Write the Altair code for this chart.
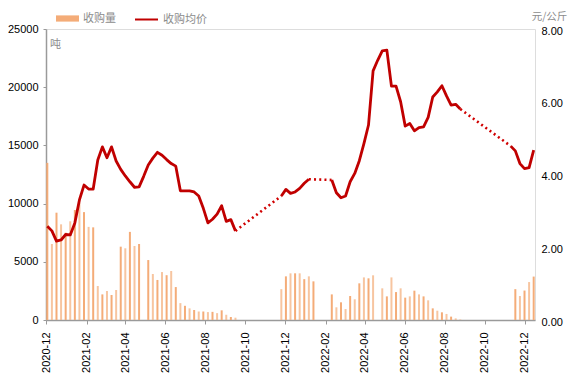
import altair as alt
import pandas as pd

start_date = "2020-12-03"

# weekly purchase volume (吨); None = no data that week
volume = [13500, 6530, 9220, 8220, 7500, 8480, 9450, 10080, 9270, 8000,
          7960, 2920, 2200, 2490, 2150, 2580, 6300, 6160, 7570, 6360,
          6530, None, 5150, 3950, 3440, 4120, 3850, 4210, 2830, 1450,
          1220, 1000, 860, 730, 730, 680, 700, 590, 830, 450,
          260, 200,
          None, None, None, None, None, None, None, None, None,
          2650, 3750, 4010, 4010, 4010, 3510, 3750, 3320,
          None, None, None,
          2200, 1090, 1520, 940, 2060, 1780, 3150, 3660, 3580, 3840,
          None,
          2720, 2030, 3660, 2400, 2720, 1920, 2030, 2520, 2200, 2030,
          1690, 1000, 800, 660, 520, 290, 140, 30,
          None, None, None, None, None, None, None, None, None, None, None,
          2650, 2060, 2530, 3260, 3730]

# weekly average purchase price (元/公斤); None = gap (drawn dotted)
price = [2.58, 2.45, 2.17, 2.20, 2.35, 2.34, 2.67, 3.30, 3.71, 3.60,
         3.60, 4.40, 4.76, 4.46, 4.76, 4.37, 4.14, 3.96, 3.80, 3.65,
         3.66, 3.95, 4.26, 4.45, 4.61, 4.53, 4.41, 4.30, 4.23, 3.55,
         3.55, 3.55, 3.52, 3.41, 3.07, 2.67, 2.77, 2.91, 3.14, 2.71,
         2.76, 2.45,
         None, None, None, None, None, None, None, None, None,
         3.41, 3.59, 3.48, 3.52, 3.62, 3.76, 3.87,
         None, None, None, None,
         3.85, 3.50, 3.36, 3.41, 3.80, 4.03, 4.38, 4.85, 5.36, 6.85,
         7.14, 7.40, 7.42, 6.43, 6.43, 6.00, 5.33, 5.40, 5.20, 5.29,
         5.31, 5.57, 6.13, 6.27, 6.44, 6.16, 5.91, 5.93, 5.80,
         None, None, None, None, None, None, None, None, None, None,
         4.78, 4.65, 4.30, 4.16, 4.19, 4.67]

x_tick_labels = ["2020-12", "2021-02", "2021-04", "2021-06", "2021-08", "2021-10",
                 "2021-12", "2022-02", "2022-04", "2022-06", "2022-08", "2022-10",
                 "2022-12"]
x_domain = ["2020-12-01", "2022-12-17"]
left_ticks = [0, 5000, 10000, 15000, 20000, 25000]
right_ticks = [0, 2, 4, 6, 8]

series_names = ["收购量", "收购均价"]

dates = pd.date_range(start_date, periods=len(volume), freq="7D")
df = pd.DataFrame({
    "date": dates.strftime("%Y-%m-%d"),
    "volume": volume,
    "price": price,
})
df["idx"] = range(len(df))
df["seg"] = df["price"].isna().cumsum()
df["s_bar"] = series_names[0]
df["s_line"] = series_names[1]

bars_df = df.dropna(subset=["volume"])
solid_df = df.dropna(subset=["price"])

valid = solid_df.index.tolist()
gap_rows = []
for a, b in zip(valid[:-1], valid[1:]):
    if b - a > 1:
        gap_rows.append({"date": df.loc[a, "date"], "price": df.loc[a, "price"], "gap": int(a)})
        gap_rows.append({"date": df.loc[b, "date"], "price": df.loc[b, "price"], "gap": int(a)})
dotted_df = pd.DataFrame(gap_rows)


def dt(s):
    y, m, *d = [int(v) for v in s.split("-")]
    return alt.DateTime(year=y, month=m, date=(d[0] if d else 1), utc=True)


x_scale = alt.Scale(type="utc", domain=[dt(x_domain[0]), dt(x_domain[1])], padding=0)
x_axis = alt.Axis(values=[dt(s) for s in x_tick_labels], format="%Y-%m",
                  labelAngle=270, labelFontSize=11, labelColor="#000000",
                  labelFont="Liberation Sans", labelPadding=8,
                  tickSize=4, tickColor="#9a9a9a", domainColor="#9a9a9a",
                  domainWidth=1.5, grid=False, title=None)

GREY = "#8c8c8c"
CJK = "Noto Sans CJK SC"
price_scale = alt.Scale(domain=[0, 8], nice=False)

bars = alt.Chart(bars_df).mark_bar(size=2).encode(
    x=alt.X("date:T", scale=x_scale, axis=x_axis),
    y=alt.Y("volume:Q", scale=alt.Scale(domain=[0, 25000], nice=False),
            axis=alt.Axis(values=left_ticks, format="d", orient="left",
                          labelFontSize=11, labelColor="#000000",
                          labelFont="Liberation Sans", labelPadding=5,
                          tickSize=3, tickColor="#9a9a9a",
                          domainColor="#9a9a9a", domainWidth=1.5, grid=False,
                          title="吨", titleAngle=0, titleX=9, titleY=15,
                          titleAlign="center", titleBaseline="middle",
                          titleFont=CJK, titleFontSize=11,
                          titleFontWeight="normal", titleColor=GREY)),
    fill=alt.Fill("s_bar:N",
                  scale=alt.Scale(domain=[series_names[0]], range=["#F4AC78"]),
                  legend=alt.Legend(orient="none", legendX=10, legendY=-22,
                                    title=None,
                                    symbolType="M-1,-0.27H1V0.27H-1Z",
                                    symbolSize=529, symbolStrokeWidth=0,
                                    labelFont=CJK, labelFontSize=11,
                                    labelColor=GREY, labelOffset=4)),
    opacity=alt.Opacity("parity:N", scale=alt.Scale(domain=["0", "1"], range=[1.0, 0.7]),
                        legend=None),
).transform_calculate(parity="datum.idx % 2 == 0 ? '0' : '1'")

line = alt.Chart(solid_df).mark_line(strokeWidth=2.8, strokeJoin="round").encode(
    x=alt.X("date:T", scale=x_scale),
    y=alt.Y("price:Q", scale=price_scale,
            axis=alt.Axis(values=right_ticks, format=".2f", orient="right",
                          labelFontSize=11, labelColor="#000000",
                          labelFont="Liberation Sans", labelPadding=6,
                          labelOffset=2,
                          ticks=False, domain=False, grid=False,
                          title="元/公斤", titleAngle=0, titleX=14, titleY=-13,
                          titleAlign="center", titleBaseline="middle",
                          titleFont=CJK, titleFontSize=10.5,
                          titleFontWeight="normal", titleColor=GREY)),
    stroke=alt.Stroke("s_line:N",
                      scale=alt.Scale(domain=[series_names[1]], range=["#C00000"]),
                      legend=alt.Legend(orient="none", legendX=88, legendY=-22,
                                        title=None, symbolType="stroke",
                                        symbolSize=529, symbolStrokeWidth=2,
                                        labelFont=CJK, labelFontSize=11,
                                        labelColor=GREY, labelOffset=4)),
    detail="seg:N",
)

dots = alt.Chart(dotted_df).mark_line(strokeWidth=2.6, strokeDash=[2, 3.2],
                                      color="#D00000").encode(
    x=alt.X("date:T", scale=x_scale),
    y=alt.Y("price:Q", scale=price_scale),
    detail="gap:N",
)

chart = alt.layer(bars, alt.layer(line, dots)).resolve_scale(
    y="independent"
).properties(
    width=489, height=291,
    autosize="none",
    padding={"left": 38, "top": 21, "right": 33, "bottom": 55},
).configure_view(stroke=None).configure(background="white")

chart.save("out.html", embed_options={"renderer": "svg", "actions": False})
